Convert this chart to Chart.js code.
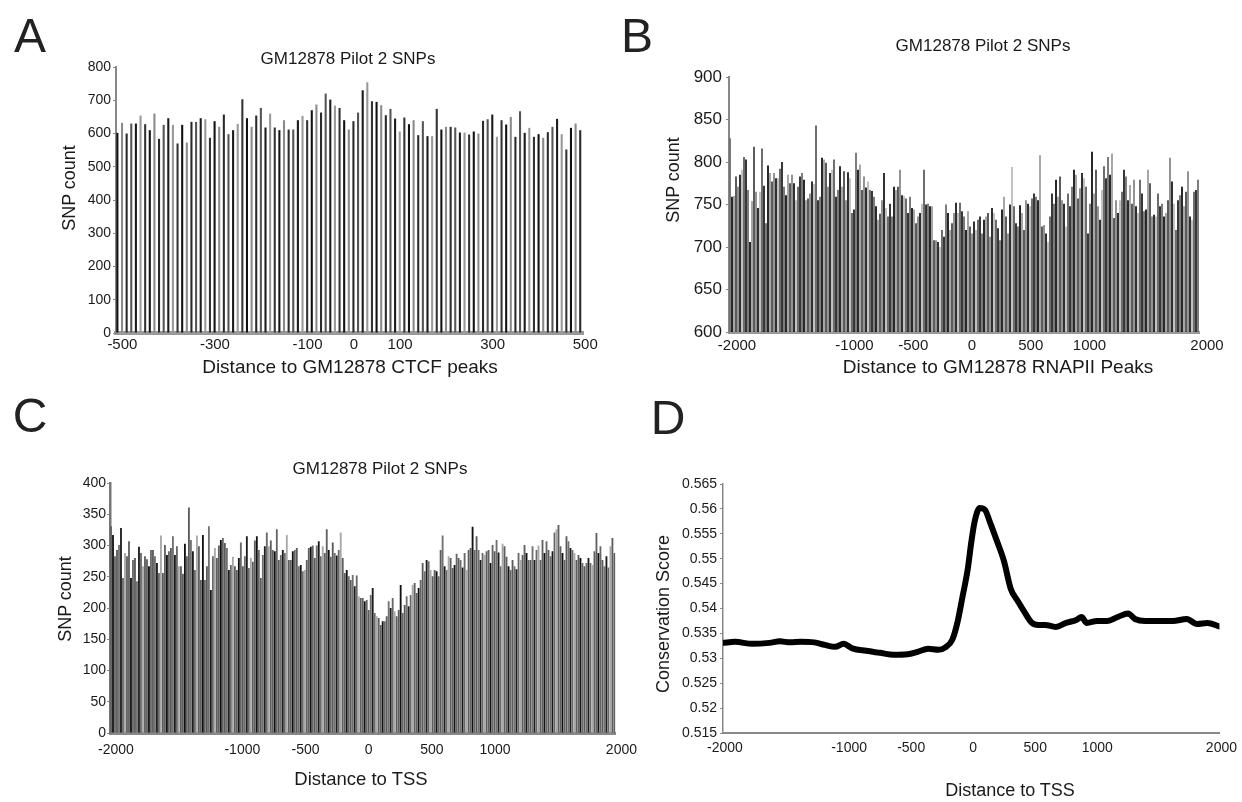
<!DOCTYPE html>
<html>
<head>
<meta charset="utf-8">
<title>GM12878 Pilot 2 SNPs</title>
<script src="https://cdn.jsdelivr.net/npm/chart.js@4.4.1/dist/chart.umd.min.js"></script>
<style>
  html, body { margin: 0; padding: 0; background: #fff; }
  #fig { position: relative; width: 1242px; height: 802px; overflow: hidden;
         font-family: "Liberation Sans", Arial, sans-serif; color: #1a1a1a; }
  #fig canvas { position: absolute; }
  .t { position: absolute; white-space: nowrap; line-height: 1; transform: translate(-50%, -50%); }
  .v { transform: translate(-50%, -50%) rotate(-90deg); }
  .letter { font-size: 48px; color: #222; }
  .ttl { font-size: 17px; }
  .ax { font-size: 19px; }
</style>
</head>
<body>
<div id="fig">
  <canvas id="chA" style="left:0;top:0" width="620" height="390"></canvas>
  <canvas id="chB" style="left:620px;top:0" width="622" height="390"></canvas>
  <canvas id="chC" style="left:0;top:390px" width="640" height="412"></canvas>
  <canvas id="chD" style="left:630px;top:390px" width="612" height="412"></canvas>

  <div class="t letter" style="left:30px;top:36px">A</div>
  <div class="t ttl" style="left:348px;top:58px">GM12878 Pilot 2 SNPs</div>
  <div class="t ax v" style="left:69px;top:188px;font-size:18px">SNP count</div>
  <div class="t ax" style="left:350px;top:366px">Distance to GM12878 CTCF peaks</div>

  <div class="t letter" style="left:637px;top:36px">B</div>
  <div class="t ttl" style="left:983px;top:45px">GM12878 Pilot 2 SNPs</div>
  <div class="t ax v" style="left:673px;top:180px;font-size:18px">SNP count</div>
  <div class="t ax" style="left:998px;top:366px">Distance to GM12878 RNAPII Peaks</div>

  <div class="t letter" style="left:30px;top:416px">C</div>
  <div class="t ttl" style="left:380px;top:468px">GM12878 Pilot 2 SNPs</div>
  <div class="t ax v" style="left:65px;top:599px;font-size:18px">SNP count</div>
  <div class="t ax" style="left:361px;top:779px;font-size:18.5px">Distance to TSS</div>

  <div class="t letter" style="left:668px;top:418px">D</div>
  <div class="t ax v" style="left:663px;top:614px;font-size:18px">Conservation Score</div>
  <div class="t ax" style="left:1010px;top:790px;font-size:18px">Distance to TSS</div>
</div>

<script>
// ---- panel A: SNP count around CTCF peaks (10 bp bins) ----
var aBins = Array.from({ length: 101 }, function (_, i) { return -500 + 10 * i; });
var aCounts = [602, 632, 600, 630, 630, 654, 628, 610, 660, 584,
  626, 646, 626, 570, 626, 573, 635, 635, 646, 643,
  587, 637, 620, 657, 598, 610, 629, 703, 646, 620,
  654, 677, 618, 660, 618, 610, 640, 612, 612, 640,
  653, 640, 670, 687, 663, 720, 702, 684, 677, 640,
  612, 637, 663, 730, 754, 697, 695, 685, 655, 674,
  645, 606, 648, 628, 640, 595, 637, 592, 592, 674,
  612, 620, 620, 618, 603, 603, 597, 606, 600, 638,
  643, 657, 590, 640, 627, 650, 590, 667, 602, 617,
  590, 598, 587, 604, 620, 644, 598, 552, 617, 630, 610];
var aXTicks = [-500, -300, -100, 0, 100, 300, 500];
var aYTicks = [0, 100, 200, 300, 400, 500, 600, 700, 800];

// ---- panel B: SNP count around RNAPII peaks ----
var bCounts = [828, 759, 760, 783, 771, 785, 791, 806, 803, 767, 706, 754, 818, 765, 746, 765, 816, 772, 728, 796,
  787, 777, 787, 781, 781, 792, 800, 771, 761, 785, 775, 785, 775, 755, 771, 783, 787, 779, 755, 757,
  763, 777, 774, 843, 755, 759, 805, 803, 799, 771, 787, 791, 803, 759, 767, 795, 771, 789, 755, 788,
  781, 740, 744, 811, 791, 797, 767, 783, 770, 777, 767, 766, 759, 748, 732, 739, 755, 787, 746, 736,
  751, 736, 771, 767, 771, 791, 761, 760, 757, 740, 759, 746, 744, 728, 736, 740, 751, 791, 750, 751,
  748, 748, 708, 708, 706, 700, 720, 712, 750, 740, 720, 728, 740, 752, 740,
  752, 742, 736, 720, 742, 724, 716, 730, 720, 732, 736, 716, 732, 736, 740, 712, 746, 740, 732, 722,
  708, 744, 759, 736, 716, 750, 794, 748, 728, 724, 749, 740, 720, 755, 751, 748, 757, 763, 759, 755,
  808, 724, 726, 716, 706, 736, 763, 751, 779, 759, 783, 755, 751, 724, 763, 748, 771, 791, 785, 757,
  769, 787, 781, 771, 716, 751, 812, 763, 791, 748, 732, 767, 795, 781, 806, 785, 810, 734, 755, 740,
  755, 765, 791, 783, 755, 773, 751, 779, 748, 740, 779, 763, 742, 744, 791, 775, 736, 738, 736, 763,
  748, 751, 736, 740, 755, 805, 777, 751, 720, 755, 761, 771, 748, 765, 789, 736, 732, 765, 767, 779];
var bXTicks = [-2000, -1000, -500, 0, 500, 1000, 2000];
var bYTicks = [600, 650, 700, 750, 800, 850, 900];

// ---- panel C: SNP count around TSS ----
var cCounts = [331, 317, 283, 293, 301, 328, 248, 288, 283, 307, 248, 277, 280, 243, 298, 288, 267, 283, 278, 267,
  293, 293, 283, 272, 256, 316, 256, 301, 285, 291, 296, 315, 285, 299, 267, 267, 255, 303, 283, 361,
  309, 291, 261, 316, 299, 245, 317, 245, 267, 331, 229, 283, 296, 280, 300, 309, 312, 304, 296, 261,
  269, 282, 267, 261, 280, 305, 267, 283, 315, 264, 280, 274, 308, 315, 293, 248, 285, 299, 321, 299,
  308, 293, 291, 326, 277, 285, 293, 288, 317, 277, 277, 291, 293, 296, 267, 269, 259, 261, 277, 296,
  298, 300, 280, 300, 307, 283, 299, 288, 326, 293, 282, 305, 288, 284, 293, 321, 280, 256, 261, 251,
  245, 253, 235, 252, 219, 216, 216,
  211, 213, 197, 221, 232, 192, 187, 184, 173, 179, 179, 187, 211, 200, 216, 195, 187, 197, 237, 192,
  205, 219, 203, 221, 237, 240, 224, 232, 245, 272, 259, 277, 275, 261, 251, 261, 259, 251, 293, 316,
  267, 261, 283, 280, 264, 269, 287, 280, 277, 265, 288, 261, 293, 296, 330, 293, 315, 293, 277, 288,
  285, 291, 293, 272, 301, 291, 309, 289, 267, 303, 299, 282, 267, 261, 277, 267, 262, 288, 277, 285,
  301, 288, 277, 277, 299, 277, 293, 300, 277, 309, 288, 307, 293, 283, 291, 321, 326, 333, 299, 288,
  277, 315, 307, 296, 293, 288, 277, 285, 280, 272, 267, 272, 280, 272, 269, 291, 320, 288, 299, 277,
  267, 283, 265, 299, 312, 288];
var cXTicks = [-2000, -1000, -500, 0, 500, 1000, 2000];
var cYTicks = [0, 50, 100, 150, 200, 250, 300, 350, 400];

// ---- panel D: conservation score around TSS ----
var dDist = [-2000, -1903, -1764, -1625, -1542, -1458, -1375, -1264, -1181, -1097, -1028, -958, -847, -736,
  -625, -514, -431, -347, -264, -208, -153, -111, -69, -28, 0, 28, 69, 111, 153, 208, 264, 319, 375,
  431, 486, 542, 597, 681, 764, 847, 889, 931, 1014, 1097, 1181, 1264, 1319, 1403, 1514, 1625, 1736,
  1819, 1903, 2000];
var dScore = [0.5331, 0.5333, 0.5329, 0.5331, 0.5334, 0.5332, 0.5333, 0.5332, 0.5327, 0.5323, 0.5329,
  0.5320, 0.5315, 0.5311, 0.5307, 0.5308, 0.5313, 0.5319, 0.5317, 0.5322, 0.5337, 0.5372, 0.5425,
  0.5479, 0.5532, 0.5575, 0.5602, 0.5598, 0.5572, 0.5535, 0.5495, 0.5439, 0.5415, 0.5392, 0.5372,
  0.5367, 0.5367, 0.5363, 0.5371, 0.5377, 0.5383, 0.5371, 0.5375, 0.5375, 0.5383, 0.5390, 0.5379,
  0.5375, 0.5375, 0.5375, 0.5379, 0.5369, 0.5371, 0.5364];
var dXTicks = [-2000, -1000, -500, 0, 500, 1000, 2000];
var dYTicks = [0.515, 0.52, 0.525, 0.53, 0.535, 0.54, 0.545, 0.55, 0.555, 0.56, 0.565];

var FONT = '"Liberation Sans", Arial, sans-serif';
var INK = '#1a1a1a';

function binCenters(n, lo, hi) {
  var step = (hi - lo) / n;
  return Array.from({ length: n }, function (_, i) { return lo + step * (i + 0.5); });
}
var bBins = binCenters(bCounts.length, -2000, 2000);
var cBins = binCenters(cCounts.length, -2000, 2000);

function xScale(o) {
  return {
    type: 'linear', offset: false, min: o.xMin, max: o.xMax,
    afterFit: function (s) { s.height = o.xh; },
    afterBuildTicks: function (s) { s.ticks = o.xTicks.map(function (v) { return { value: v }; }); },
    grid: { display: false, drawTicks: false },
    border: { display: true, color: o.xAxisColor, width: o.xAxisWidth },
    ticks: {
      padding: o.xPad, labelOffset: o.xOff, maxRotation: 0, autoSkip: false, color: INK,
      font: { family: FONT, size: o.xFont },
      callback: function (v) { return String(v); }
    }
  };
}

function yScale(o) {
  return {
    min: o.yMin, max: o.yMax,
    afterFit: function (s) { s.width = o.yw; },
    afterBuildTicks: function (s) { s.ticks = o.yTicks.map(function (v) { return { value: v }; }); },
    grid: { display: true, drawOnChartArea: false, drawTicks: true, tickLength: 3, color: '#888' },
    border: { display: true, color: o.yAxisColor, width: o.yAxisWidth },
    ticks: {
      padding: o.yPad, color: INK, font: { family: FONT, size: o.yFont },
      callback: function (v) { return String(+v.toFixed(3)); }
    }
  };
}

function baseOptions(o) {
  return {
    responsive: false, animation: false,
    layout: { padding: o.pad },
    plugins: { legend: { display: false }, tooltip: { enabled: false }, title: { display: false } },
    scales: { x: xScale(o), y: yScale(o) }
  };
}

function barPanel(id, bins, values, shades, o) {
  new Chart(document.getElementById(id), {
    type: 'bar',
    data: {
      datasets: [{
        data: bins.map(function (b, i) { return { x: b, y: values[i] }; }),
        backgroundColor: values.map(function (_, i) { return shades[i % shades.length]; }),
        barPercentage: o.barPct, categoryPercentage: 1, borderWidth: 0
      }]
    },
    options: baseOptions(o)
  });
}

barPanel('chA', aBins, aCounts, ['#111', '#8a8a8a', '#2a2a2a', '#555', '#1a1a1a', '#999', '#333'], {
  pad: { left: 0, top: 67, right: 37, bottom: 0 }, yw: 116, xh: 57,
  xMin: -503, xMax: 506, xTicks: aXTicks, xPad: 3, xOff: 5, xFont: 15,
  xAxisColor: '#9a9a9a', xAxisWidth: 4,
  yMin: 0, yMax: 800, yTicks: aYTicks, yPad: 2, yFont: 14,
  yAxisColor: '#888', yAxisWidth: 2, barPct: 0.45
});

barPanel('chB', bBins, bCounts, ['#6e6e6e', '#111', '#9e9e9e', '#4a4a4a', '#888', '#1a1a1a', '#bbb', '#5e5e5e', '#222'], {
  pad: { left: 0, top: 77, right: 43, bottom: 0 }, yw: 109, xh: 58,
  xMin: -2000, xMax: 2000, xTicks: bXTicks, xPad: 5, xOff: 8, xFont: 15,
  xAxisColor: '#999', xAxisWidth: 3,
  yMin: 600, yMax: 900, yTicks: bYTicks, yPad: 4, yFont: 17,
  yAxisColor: '#888', yAxisWidth: 2, barPct: 0.9
});

barPanel('chC', cBins, cCounts, ['#606060', '#111', '#666', '#5a5a5a', '#707070', '#1c1c1c', '#686868', '#a8a8a8', '#5e5e5e'], {
  pad: { left: 0, top: 93, right: 23, bottom: 0 }, yw: 110, xh: 69,
  xMin: -2000, xMax: 2000, xTicks: cXTicks, xPad: 9, xOff: 6, xFont: 14,
  xAxisColor: '#888', xAxisWidth: 3,
  yMin: 0, yMax: 400, yTicks: cYTicks, yPad: 1, yFont: 14,
  yAxisColor: '#777', yAxisWidth: 2.5, barPct: 0.92
});

new Chart(document.getElementById('chD'), {
  type: 'line',
  data: {
    datasets: [{
      data: dDist.map(function (x, i) { return { x: x, y: dScore[i] }; }),
      borderColor: '#000', borderWidth: 6, pointRadius: 0, fill: false,
      cubicInterpolationMode: 'monotone', borderCapStyle: 'round', borderJoinStyle: 'round'
    }]
  },
  options: baseOptions({
    pad: { left: 0, top: 94, right: 22, bottom: 0 }, yw: 93, xh: 69,
    xMin: -2000, xMax: 2000, xTicks: dXTicks, xPad: 7, xOff: 2, xFont: 14,
    xAxisColor: '#888', xAxisWidth: 2,
    yMin: 0.515, yMax: 0.565, yTicks: dYTicks, yPad: 3, yFont: 14,
    yAxisColor: '#888', yAxisWidth: 1.5
  })
});
</script>
</body>
</html>
